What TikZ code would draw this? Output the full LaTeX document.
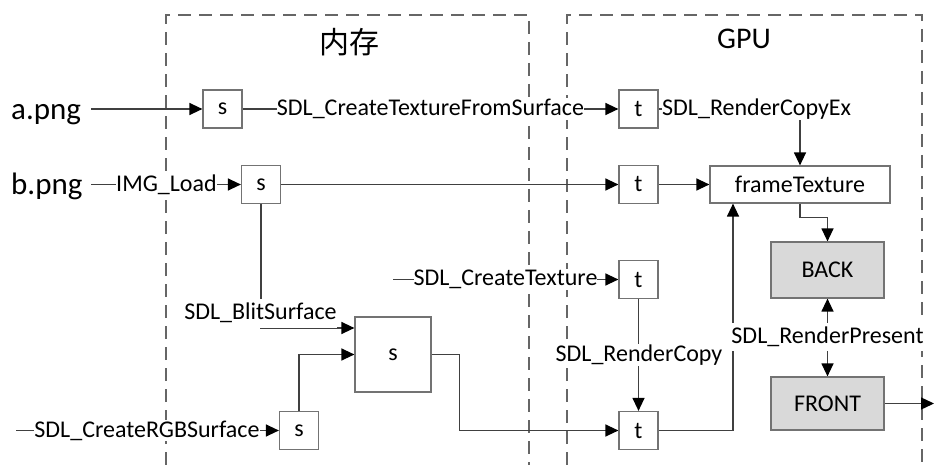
\documentclass[tikz,border=0pt]{standalone}
\usepackage{fontspec}
\setmainfont{Carlito}
\newfontfamily\cjk{Noto Sans CJK SC}
\usetikzlibrary{arrows.meta,backgrounds}

\begin{document}
\begin{tikzpicture}[x=1pt,y=-1pt,
  box/.style={draw=black!55, line width=1.2pt, fill=white, inner sep=0pt,
    minimum width=39pt, minimum height=38pt, font=\fontsize{24}{28}\selectfont},
  bufbox/.style={box, fill=black!15, minimum width=113pt},
  lbl/.style={fill=white, inner xsep=0pt, inner ysep=1pt, font=\fontsize{24}{28}\selectfont},
  file/.style={inner sep=0pt, font=\fontsize{31}{36}\selectfont},
  title/.style={inner sep=0pt, font=\fontsize{30}{36}\selectfont},
  conn/.style={draw=black!75, line width=1.3pt},
  arr/.style={conn, -{Triangle[length=13pt,width=12pt,color=black]}},
  region/.style={draw=black!60, line width=1.2pt, dash pattern=on 13pt off 8pt}
]
\useasboundingbox (0,0) rectangle (934,465);

% region titles
\node[title] (tmem) at (349,42) {\cjk 内存};
\node[title] (tgpu) at (744,39) {GPU};

% source files
\node[file, anchor=base west] (apng) at (11,120) {a.png};
\node[file, anchor=base west] (bpng) at (11,195) {b.png};

% surfaces and textures
\node[box] (s1) at (222.5,109) {s};
\node[box] (s2) at (261,184.5) {s};
\node[box, minimum width=76pt, minimum height=75pt] (s3) at (393,354.5) {s};
\node[box] (s4) at (299,430.5) {s};
\node[box] (t1) at (638.5,109) {t};
\node[box] (t2) at (638.5,184.5) {t};
\node[box] (t3) at (638.5,279.5) {t};
\node[box] (t4) at (638.5,430.5) {t};
\node[box, minimum width=180pt, minimum height=37pt] (ft) at (800,184.5) {frameTexture};
\node[bufbox, minimum height=56pt] (back) at (827.5,270) {BACK};
\node[bufbox, minimum height=53pt] (front) at (827.5,403.5) {FRONT};

% function labels
\node[lbl] (lA) at (430.5,109) {SDL\_CreateTextureFromSurface};
\node[lbl, anchor=west] (lEx) at (662,109) {SDL\_RenderCopyEx};
\node[lbl] (lImg) at (166.5,184.5) {IMG\_Load};
\node[lbl, minimum height=29pt] (lBlit) at (260.5,313) {SDL\_BlitSurface};
\node[lbl] (lCT) at (505.5,279.5) {SDL\_CreateTexture};
\node[lbl] (lRC) at (639,355) {SDL\_RenderCopy};
\node[lbl] (lRGB) at (147,430.5) {SDL\_CreateRGBSurface};
\node[lbl, inner ysep=4pt] (lRP) at (827.5,337) {SDL\_RenderPresent};

% free line ends
\coordinate (cA) at (91,109);
\coordinate (cB) at (91,184.5);
\coordinate (cCT) at (393,279.5);
\coordinate (cRGB) at (16,430.5);
\coordinate (cOut) at (934,403.5);

\begin{pgfonlayer}{background}
  % memory and GPU regions
  \draw[region] (166,465) -- (166,15) -- (529,15) -- (529,465);
  \draw[region] (567,465) -- (567,15) -- (922,15) -- (922,465);

  \draw[arr] (cA) -- (s1.west);
  \draw[arr] (s1.east) -- (t1.west);
  \draw[conn] (t1.east) -- (lEx.west);
  \draw[arr] (lEx.south -| ft.north) -- (ft.north);

  \draw[arr] (cB) -- (s2.west);
  \draw[arr] (s2.east) -- (t2.west);
  \draw[arr] (t2.east) -- (ft.west);
  \draw[arr] (ft.south) -- ++(0,14) -| (back.north);

  \draw[arr] (lRP.north) -- (back.south);
  \draw[arr] (lRP.south) -- (front.north);
  \draw[arr] (front.east) -- (cOut);

  \draw[arr] (s2.south) |- ([yshift=26.5pt]s3.west);
  \draw[arr] (cRGB) -- (s4.west);
  \draw[arr] (s4.north) |- (s3.west);
  \draw[arr] (s3.east) -- ++(28,0) |- (t4.west);

  \draw[arr] (cCT) -- (t3.west);
  \draw[arr] (t3.south) -- (t4.north);
  \draw[arr] (t4.east) -| ([xshift=-67pt]ft.south);
\end{pgfonlayer}
\end{tikzpicture}
\end{document}
